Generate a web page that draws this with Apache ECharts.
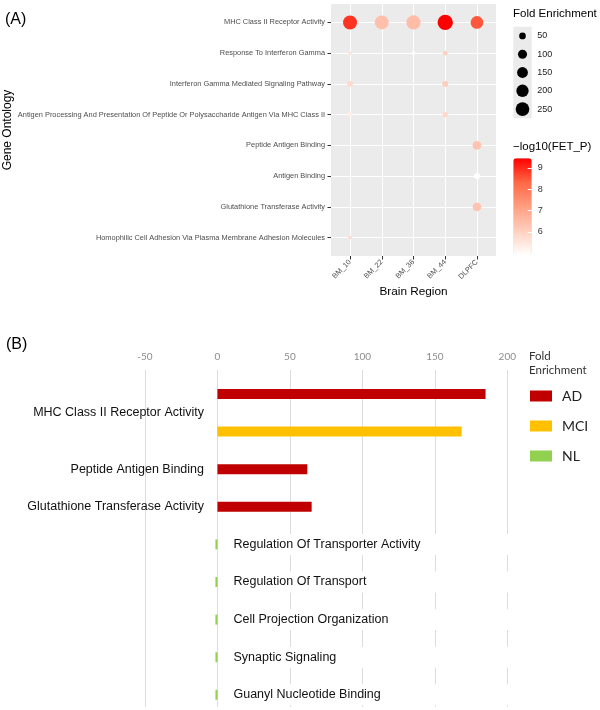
<!DOCTYPE html>
<html><head><meta charset="utf-8">
<script src="https://cdn.jsdelivr.net/npm/echarts@6/dist/echarts.min.js"></script>
<style>html,body{margin:0;padding:0;background:#fff}#c{width:600px;height:710px}</style>
</head><body><div id="c"></div>
<script>
// ---------- Panel A data ----------
const regions = ['BM_10', 'BM_22', 'BM_36', 'BM_44', 'DLPFC'];
const goTerms = [
  'MHC Class II Receptor Activity',
  'Response To Interferon Gamma',
  'Interferon Gamma Mediated Signaling Pathway',
  'Antigen Processing And Presentation Of Peptide Or Polysaccharide Antigen Via MHC Class II',
  'Peptide Antigen Binding',
  'Antigen Binding',
  'Glutathione Transferase Activity',
  'Homophilic Cell Adhesion Via Plasma Membrane Adhesion Molecules'
];
// fold enrichment per region, in goTerms order (null = not shown)
const foldBM10 = [265, 8, 36, 25, null, null, null, 14];
const foldBM22 = [258, null, null, null, null, null, null, null];
const foldBM36 = [270, 14, null, null, null, null, null, null];
const foldBM44 = [318, 21, 36, 30, null, null, null, null];
const foldDLPFC = [212, null, null, null, 92, 38, 92, null];
// -log10(FET_P) per region, in goTerms order
const logpBM10 = [8.9, 5.6, 5.8, 5.3, null, null, null, 5.7];
const logpBM22 = [6.4, null, null, null, null, null, null, null];
const logpBM36 = [6.5, 4.92, null, null, null, null, null, null];
const logpBM44 = [9.45, 6.0, 6.1, 5.8, null, null, null, null];
const logpDLPFC = [8.5, null, null, null, 6.3, 4.95, 6.3, null];
const sizeBreaks = [50, 100, 150, 200, 250];
const colorTicks = [6, 7, 8, 9];
const logpMin = 4.92, logpMax = 9.45;

// ---------- Panel B data ----------
const termsB = [
  'MHC Class II Receptor Activity',
  'Peptide Antigen Binding',
  'Glutathione Transferase Activity',
  'Regulation Of Transporter Activity',
  'Regulation Of Transport',
  'Cell Projection Organization',
  'Synaptic Signaling',
  'Guanyl Nucleotide Binding'
];
const groupsB = ['AD', 'MCI', 'NL'];
const valuesAD = [185, 62, 65, null, null, null, null, null];
const valuesMCI = [168.5, null, null, null, null, null, null, null];
const valuesNL = [null, null, null, -1.4, -1.4, -1.4, -1.4, -1.4];
const xTicksB = [-50, 0, 50, 100, 150, 200];
const colorsB = ['#C00000', '#FFC000', '#92D050'];

// ---------- build ----------
const foldByRegion = [foldBM10, foldBM22, foldBM36, foldBM44, foldDLPFC];
const logpByRegion = [logpBM10, logpBM22, logpBM36, logpBM44, logpDLPFC];
const bubbles = [];
regions.forEach((r, ri) => {
  goTerms.forEach((t, ti) => {
    const f = foldByRegion[ri][ti];
    if (f != null) bubbles.push([ri, ti, f, logpByRegion[ri][ti]]);
  });
});
const sizeFn = v => 1.04 + 0.8 * Math.sqrt(v);
const idx = a => a.map((_, i) => i);

const valsB = [valuesAD, valuesMCI, valuesNL];
const slots = [];
termsB.forEach((t, ti) => {
  groupsB.forEach((g, gi) => {
    if (valsB[gi][ti] != null) slots.push({ term: ti, group: gi, value: valsB[gi][ti] });
  });
});
const slotNames = slots.map((s, i) => 'slot' + i);

const FA = 'Liberation Sans';
const gridBase = { outerBoundsMode: 'none', containLabel: false };
const blankAxis = (gi, extra) => Object.assign({ gridIndex: gi, show: false, type: 'value', axisLine: { onZero: false } }, extra || {});

const option = {
  animation: false,
  backgroundColor: '#fff',
  title: [
    { text: '(A)', left: 5, top: 12, padding: 0, textStyle: { fontFamily: FA, fontSize: 16, fontWeight: 'normal', color: '#000' } },
    { text: '(B)', left: 6, top: 337, padding: 0, textStyle: { fontFamily: FA, fontSize: 16, fontWeight: 'normal', color: '#000' } },
    { text: 'Fold Enrichment', left: 513, top: 8, padding: 0, textStyle: { fontFamily: FA, fontSize: 11.5, fontWeight: 'normal', color: '#000' } },
    { text: '\u2212log10(FET_P)', left: 513, top: 141, padding: 0, textStyle: { fontFamily: FA, fontSize: 11.5, fontWeight: 'normal', color: '#000' } },
    { text: 'Fold\nEnrichment', left: 529, top: 350, padding: 0, textStyle: { fontFamily: 'Lato', fontSize: 11.5, lineHeight: 13.5, fontWeight: 'normal', color: '#333' } }
  ],
  grid: [
    Object.assign({ left: 331, top: 4, width: 165, height: 252, show: true, backgroundColor: '#EBEBEB', borderWidth: 0 }, gridBase),
    Object.assign({ left: 513.3, top: 158.3, width: 18.4, height: 96.7 }, gridBase),
    Object.assign({ left: 513.3, top: 26.8, width: 18.4, height: 91.4, show: true, backgroundColor: '#EBEBEB', borderWidth: 0 }, gridBase),
    Object.assign({ left: 145, top: 370, width: 362.3, height: 337 }, gridBase),
    Object.assign({ left: 145, top: 375.2, width: 362.3, height: 338.4 }, gridBase)
  ],
  xAxis: [
    {
      gridIndex: 0, type: 'value', min: -0.6, max: 4.6, position: 'bottom',
      axisLine: { show: false, onZero: false },
      axisTick: { show: true, customValues: idx(regions), length: 3.5, lineStyle: { color: '#333', width: 1 } },
      axisLabel: { customValues: idx(regions), formatter: v => regions[Math.round(v)], rotate: 45, fontFamily: FA, fontSize: 7.4, color: '#4D4D4D', margin: 5 },
      splitLine: { show: true, lineStyle: { color: '#fff', width: 1.1 } },
      name: 'Brain Region', nameLocation: 'middle', nameGap: 30,
      nameTextStyle: { fontFamily: FA, fontSize: 11.8, color: '#000' }
    },
    blankAxis(1, { min: 0, max: 1 }),
    blankAxis(2, { min: -1, max: 1 }),
    {
      gridIndex: 3, type: 'value', position: 'top', min: -50, max: 200, interval: 50,
      axisLine: { show: false, onZero: false }, axisTick: { show: false },
      axisLabel: { fontFamily: 'Lato', fontSize: 10, color: '#8C8C8C', margin: 8 },
      splitLine: { show: true, lineStyle: { color: '#DCDCDC', width: 1 } }
    },
    blankAxis(4, { min: -50, max: 200 })
  ],
  yAxis: [
    {
      gridIndex: 0, type: 'value', inverse: true, min: -0.6, max: 7.6, position: 'left',
      axisLine: { show: false, onZero: false },
      axisTick: { show: true, customValues: idx(goTerms), length: 3.5, lineStyle: { color: '#333', width: 1 } },
      axisLabel: { customValues: idx(goTerms), formatter: v => goTerms[Math.round(v)], fontFamily: FA, fontSize: 7.4, color: '#4D4D4D', margin: 6 },
      splitLine: { show: true, lineStyle: { color: '#fff', width: 1.1 } },
      name: 'Gene Ontology', nameLocation: 'middle', nameGap: 313,
      nameTextStyle: { fontFamily: FA, fontSize: 12, color: '#000' }
    },
    {
      gridIndex: 1, type: 'value', position: 'right', min: logpMin, max: logpMax, z: 10,
      axisLine: { show: false, onZero: false }, splitLine: { show: false },
      axisTick: { show: true, inside: true, customValues: colorTicks, length: 4, lineStyle: { color: '#fff', width: 1 } },
      axisLabel: { customValues: colorTicks, fontFamily: FA, fontSize: 9, color: '#333', margin: 6 }
    },
    {
      gridIndex: 2, type: 'category', inverse: true, position: 'right', data: sizeBreaks.map(String),
      axisLine: { show: false, onZero: false }, axisTick: { show: false }, splitLine: { show: false },
      axisLabel: { fontFamily: FA, fontSize: 9, color: '#222', margin: 5.6, interval: 0 }
    },
    blankAxis(3, { min: 0, max: 1 }),
    {
      gridIndex: 4, type: 'category', inverse: true, data: slotNames, position: 'left',
      axisLine: { show: false, onZero: false }, axisTick: { show: false }, splitLine: { show: false },
      axisLabel: {
        interval: 0, margin: -59, fontFamily: FA, fontSize: 12.5, color: '#111',
        formatter: (v, i) => {
          const s = slots[i];
          if (!s || groupsB[s.group] === 'NL') return '';
          const sameTerm = slots.filter(o => o.term === s.term);
          if (sameTerm[0] !== s) return '';
          if (sameTerm.length > 1) return '{sh|' + termsB[s.term] + '}';
          return termsB[s.term];
        },
        rich: { sh: { fontFamily: FA, fontSize: 12.5, color: '#111', padding: [37.6, 0, 0, 0] } }
      }
    }
  ],
  visualMap: [{
    type: 'continuous', seriesIndex: 0, dimension: 3, min: logpMin, max: logpMax,
    inRange: { color: ['#FFFFFF', '#FFCFBE', '#FF9E81', '#FF6846', '#FF0000'] },
    show: true, calculable: false, hoverLink: false, left: 513.3, top: 158.3,
    itemWidth: 18.4, itemHeight: 96.7, padding: 0, text: null, showLabel: false
  }],
  legend: {
    data: groupsB, orient: 'vertical', left: 530, top: 388, icon: 'rect',
    itemWidth: 22, itemHeight: 11, itemGap: 14, padding: 0,
    textStyle: { fontFamily: 'Lato', fontSize: 14, color: '#222', lineHeight: 16, padding: [0, 0, 0, 5] }
  },
  series: [
    {
      type: 'scatter', name: 'bubbles', xAxisIndex: 0, yAxisIndex: 0, data: bubbles,
      symbolSize: d => sizeFn(d[2]), itemStyle: { opacity: 1 }
    },
    {
      type: 'scatter', name: 'sizekey', xAxisIndex: 2, yAxisIndex: 2,
      data: sizeBreaks.map((v, i) => [0, i, v]), symbolSize: d => sizeFn(d[2]),
      itemStyle: { color: '#000', opacity: 1 }
    }
  ].concat(groupsB.map((g, gi) => ({
    type: 'bar', name: g, xAxisIndex: 4, yAxisIndex: 4, barWidth: 10, barGap: '-100%',
    itemStyle: { color: colorsB[gi] },
    data: slots.map(s => s.group === gi ? s.value : null),
    label: g === 'NL' ? {
      show: true, position: 'right', distance: 16,
      formatter: p => termsB[slots[p.dataIndex].term],
      fontFamily: FA, fontSize: 12.5, color: '#111',
      backgroundColor: '#fff', width: 285, padding: [4, 0, 4, 0]
    } : { show: false }
  })))
};

const chart = echarts.init(document.getElementById('c'), null, { renderer: 'canvas' });
chart.setOption(option);
</script>
</body></html>
